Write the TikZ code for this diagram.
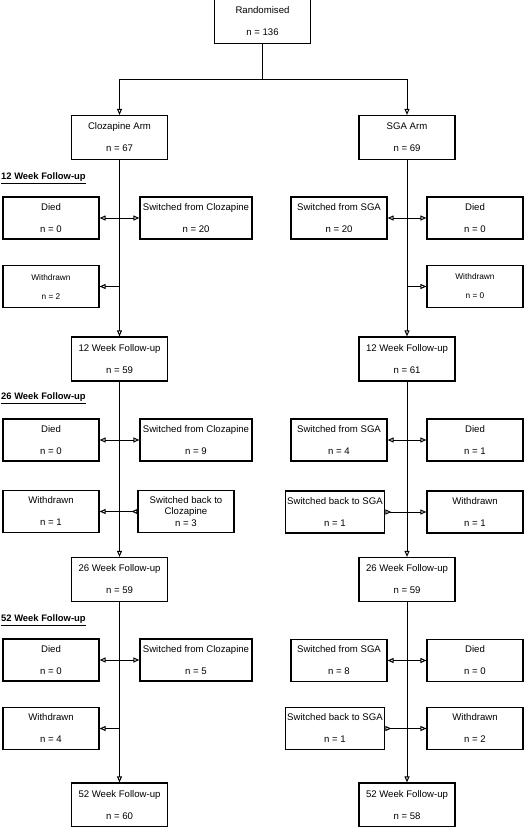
\documentclass[tikz,border=0pt]{standalone}
\usepackage{fontspec}
\setmainfont{Liberation Sans}
\usepackage{tikz}
\usetikzlibrary{arrows.meta}
\tikzset{>={Triangle[open,length=6pt,width=5pt]}}

\begin{document}
\begin{tikzpicture}[x=1pt,y=-1pt,%
        flow/.style={draw,line width=1.2pt,inner xsep=2pt,inner ysep=0pt,minimum width=96pt,minimum height=42pt,align=center,font=\fontsize{9.6}{11.5}\selectfont},
        mainflow/.style={flow,minimum height=44pt},
        smallflow/.style={flow,font=\fontsize{8.3}{10}\selectfont},
        head/.style={anchor=west,inner sep=0,font=\fontsize{9.4}{11}\selectfont\bfseries},
        conn/.style={line width=1pt},
        backarrow/.style={conn,{Triangle[open,reversed,length=6pt,width=5pt]}-},
        ]
        \useasboundingbox (0,0) rectangle (524,827);
%
        \node[mainflow] (rand) at (262.5,21.5) {Randomised\\[10.5pt]n = 136};
        \node[mainflow] (cloz) at (119.5,137.5) {Clozapine Arm\\[10.5pt]n = 67};
        \node[mainflow] (sga) at (407,137.5) {SGA Arm\\[10.5pt]n = 69};
        \coordinate (split) at (262.5,79);
%
        % 12 weeks
        \node[head] (h12) at (1,178) {\underline{12 Week Follow-up}};
        \node[flow] (died12l) at (51,218) {Died\\[10.5pt]n = 0};
        \node[flow,minimum width=112pt] (sw12l) at (196,218) {Switched from Clozapine\\[10.5pt]n = 20};
        \node[smallflow] (wd12l) at (51,286.5) {Withdrawn\\[9pt]n = 2};
        \node[flow] (sw12r) at (339,218) {Switched from SGA\\[10.5pt]n = 20};
        \node[flow] (died12r) at (475,218) {Died\\[10.5pt]n = 0};
        \node[smallflow] (wd12r) at (475,286.5) {Withdrawn\\[9pt]n = 0};
        \node[mainflow] (fu12l) at (119.5,359) {12 Week Follow-up\\[10.5pt]n = 59};
        \node[mainflow] (fu12r) at (407,359) {12 Week Follow-up\\[10.5pt]n = 61};
%
        % 26 weeks
        \node[head] (h26) at (1,398) {\underline{26 Week Follow-up}};
        \node[flow] (died26l) at (51,440) {Died\\[10.5pt]n = 0};
        \node[flow,minimum width=112pt] (sw26l) at (196,440) {Switched from Clozapine\\[10.5pt]n = 9};
        \node[flow] (wd26l) at (51,511.5) {Withdrawn\\[10.5pt]n = 1};
        \node[flow] (bk26l) at (186,511.5) {Switched back to\\Clozapine\\n = 3};
        \node[flow] (sw26r) at (339,440) {Switched from SGA\\[10.5pt]n = 4};
        \node[flow] (died26r) at (475,440) {Died\\[10.5pt]n = 1};
        \node[flow] (bk26r) at (335,512) {Switched back to SGA\\[10.5pt]n = 1};
        \node[flow] (wd26r) at (475,512) {Withdrawn\\[10.5pt]n = 1};
        \node[mainflow] (fu26l) at (119.5,579.5) {26 Week Follow-up\\[10.5pt]n = 59};
        \node[mainflow] (fu26r) at (407,579.5) {26 Week Follow-up\\[10.5pt]n = 59};
%
        % 52 weeks
        \node[head] (h52) at (1,620) {\underline{52 Week Follow-up}};
        \node[flow] (died52l) at (51,660) {Died\\[10.5pt]n = 0};
        \node[flow,minimum width=112pt] (sw52l) at (196,660) {Switched from Clozapine\\[10.5pt]n = 5};
        \node[flow] (wd52l) at (51,728.5) {Withdrawn\\[10.5pt]n = 4};
        \node[flow] (sw52r) at (339,660.5) {Switched from SGA\\[10.5pt]n = 8};
        \node[flow] (died52r) at (475,660.5) {Died\\[10.5pt]n = 0};
        \node[flow] (bk52r) at (335,728.5) {Switched back to SGA\\[10.5pt]n = 1};
        \node[flow] (wd52r) at (475,728.5) {Withdrawn\\[10.5pt]n = 2};
        \node[mainflow] (fu52l) at (119.5,805) {52 Week Follow-up\\[10.5pt]n = 60};
        \node[mainflow] (fu52r) at (407,805) {52 Week Follow-up\\[10.5pt]n = 58};
%
        \draw[conn] (rand) -- (split);
        \draw[conn,->] (split) -| (cloz);
        \draw[conn,->] (split) -| (sga);
%
        \path[conn,->]
            (cloz) edge (fu12l)
            (fu12l) edge (fu26l)
            (fu26l) edge (fu52l)
            (sga) edge (fu12r)
            (fu12r) edge (fu26r)
            (fu26r) edge (fu52r)
            ;
%
        \path[conn,->]
            (cloz |- died12l) edge (died12l) edge (sw12l)
            (cloz |- wd12l) edge (wd12l)
            (sga |- died12r) edge (died12r) edge (sw12r)
            (sga |- wd12r) edge (wd12r)
            (cloz |- died26l) edge (died26l) edge (sw26l)
            (cloz |- wd26l) edge (wd26l)
            (sga |- died26r) edge (died26r) edge (sw26r)
            (sga |- wd26r) edge (wd26r)
            (cloz |- died52l) edge (died52l) edge (sw52l)
            (cloz |- wd52l) edge (wd52l)
            (sga |- died52r) edge (died52r) edge (sw52r)
            (sga |- wd52r) edge (wd52r)
            ;
        \draw[backarrow] (bk26l) -- (cloz |- bk26l);
        \draw[backarrow] (bk26r) -- (sga |- bk26r);
        \draw[backarrow] (bk52r) -- (sga |- bk52r);
    \end{tikzpicture}
\end{document}
